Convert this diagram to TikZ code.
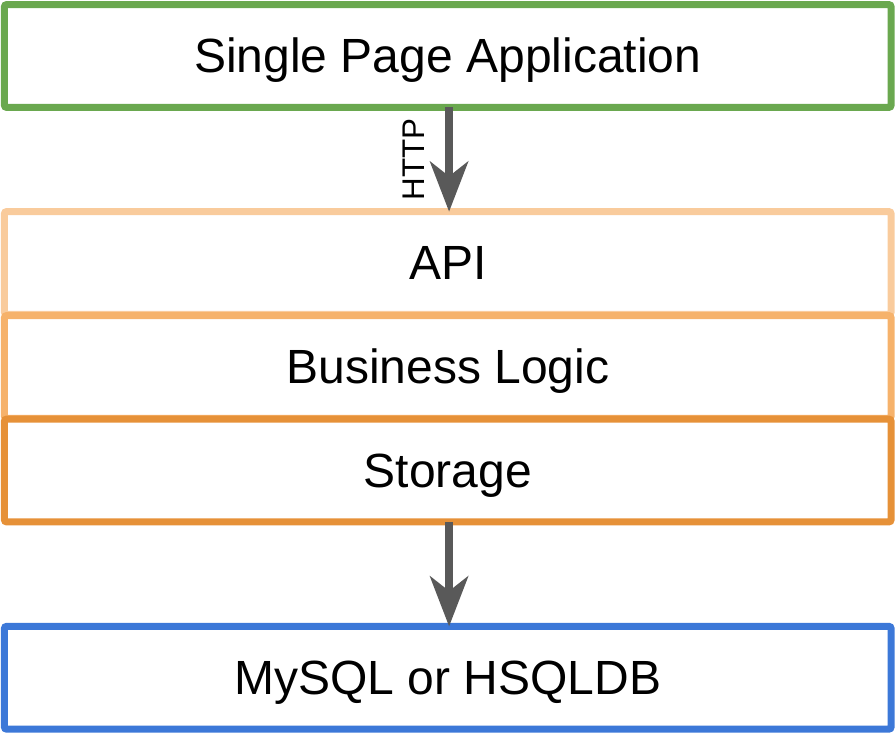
\documentclass[tikz,border=0pt]{standalone}
\usepackage{fontspec}
\setmainfont{Liberation Sans}
\usepackage{tikz}
\usetikzlibrary{arrows.meta}
\definecolor{spagreen}{HTML}{6AA84F}
\definecolor{apiorange}{HTML}{F9CB9C}
\definecolor{logicorange}{HTML}{F6B26B}
\definecolor{storeorange}{HTML}{E69138}
\definecolor{dbblue}{HTML}{3C78D8}
\definecolor{arrowgray}{HTML}{595959}
\tikzset{
  font={\fontsize{36pt}{40pt}\selectfont}}

\begin{document}
\begin{tikzpicture}[x=0.75pt,y=-0.75pt]
\tikzstyle{every node}+=[inner sep=0pt, outer sep=0pt]
\tikzstyle{layer}=[draw, line width=5.25pt, rounded corners=1.5pt, minimum width=664.9pt, minimum height=77pt, text height=26pt, text depth=1pt]
\tikzstyle{flow}=[draw=arrowgray, line width=6pt, -{Stealth[length=37.5pt,width=28.5pt,inset=11pt]}]
\useasboundingbox (0,0) rectangle (895,732);
\node [layer, draw=spagreen] (spa) at (447.75,56) {Single Page Application};
\node [layer, draw=apiorange] (api) at (447.75,263) {API};
\node [layer, draw=logicorange] (logic) at (447.75,367) {Business Logic};
\node [layer, draw=storeorange] (store) at (447.75,470.5) {Storage};
\node [layer, draw=dbblue] (db) at (447.75,677.75) {MySQL or HSQLDB};
\draw [flow] ([xshift=1pt]spa.south) -- node [midway, rotate=90, anchor=south, outer sep=18.75pt, font={\fontsize{23.5pt}{24pt}\selectfont}] (http) {HTTP} ([xshift=1pt]api.north);
\draw [flow] ([xshift=1pt]store.south) -- ([xshift=1pt]db.north);
\end{tikzpicture}
\end{document}
